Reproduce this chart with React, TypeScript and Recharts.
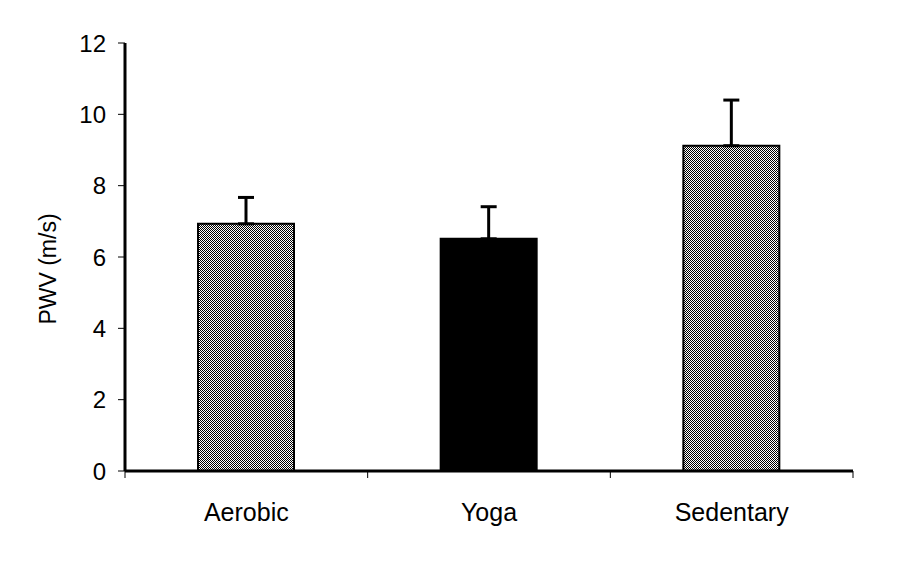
import { BarChart, Bar, XAxis, YAxis, ErrorBar, Cell } from 'recharts'

// groups and their mean pulse wave velocity (m/s) with SD
const groups = ['Aerobic', 'Yoga', 'Sedentary']
const pwvMean = [6.93, 6.51, 9.12]
const pwvSd = [0.74, 0.9, 1.28]
const yTicks = [0, 2, 4, 6, 8, 10, 12]

const data = groups.map((name, i) => ({ name, pwv: pwvMean[i], err: [0, pwvSd[i]] }))

const fillFor: Record<string, string> = {
  Aerobic: 'url(#dots)',
  Yoga: '#000',
  Sedentary: 'url(#dots)',
}

const font = '"Liberation Sans", Arial, sans-serif'
const LABEL_GAP = 32
const EDGE_TICK = 7

function YLabel({ viewBox }: any) {
  const x = viewBox.x + 40
  const y = viewBox.y + viewBox.height / 2 + 12
  return (
    <text
      x={x}
      y={y}
      transform={`rotate(-90 ${x} ${y})`}
      textAnchor="middle"
      dominantBaseline="central"
      fontSize={23}
      fontFamily={font}
      fill="#000"
    >
      PWV (m/s)
    </text>
  )
}

// category label at the band centre, tick marks at the band edges (Excel style)
function EdgeTick({ x, y, payload, index, visibleTicksCount }: any) {
  const half = payload?.offset ?? 0
  const axisY = y - LABEL_GAP
  const isLast = index === visibleTicksCount - 1
  return (
    <g>
      <line x1={x - half} x2={x - half} y1={axisY} y2={axisY + EDGE_TICK} stroke="#000" strokeWidth={1} />
      {isLast && (
        <line x1={x + half} x2={x + half} y1={axisY} y2={axisY + EDGE_TICK} stroke="#000" strokeWidth={1} />
      )}
      <text x={x} y={y} dy="0.71em" textAnchor="middle" fontSize={25} fontFamily={font} fill="#000">
        {payload.value}
      </text>
    </g>
  )
}

export default function App() {
  return (
    <BarChart
      width={895}
      height={557}
      data={data}
      margin={{ top: 35, right: 50, bottom: 0, left: 0 }}
      barCategoryGap={0}
    >
      <defs>
        <pattern id="dots" patternUnits="userSpaceOnUse" width={2} height={2}>
          <rect x={0} y={0} width={2} height={2} fill="#fff" />
          <rect x={0} y={0} width={1} height={1} fill="#000" shapeRendering="crispEdges" />
          <rect x={1} y={1} width={1} height={1} fill="#000" shapeRendering="crispEdges" />
        </pattern>
      </defs>
      <XAxis
        dataKey="name"
        height={94}
        tickLine={false}
        tickSize={0}
        tickMargin={LABEL_GAP}
        axisLine={{ stroke: '#000', strokeWidth: 3 }}
        tick={<EdgeTick />}
        interval={0}
      />
      <YAxis
        width={117}
        domain={[0, 12]}
        ticks={yTicks}
        interval={0}
        axisLine={{ stroke: '#000', strokeWidth: 3 }}
        tickLine={{ stroke: '#000', strokeWidth: 1 }}
        tickSize={7}
        tickMargin={12}
        tick={{ fontSize: 24, fontFamily: font, fill: '#000' }}
        label={<YLabel />}
      />
      <Bar dataKey="pwv" barSize={96} stroke="#000" strokeWidth={2} isAnimationActive={false}>
        {data.map((d) => (
          <Cell key={d.name} fill={fillFor[d.name]} />
        ))}
        <ErrorBar dataKey="err" direction="y" width={8} stroke="#000" strokeWidth={3} />
      </Bar>
    </BarChart>
  )
}
